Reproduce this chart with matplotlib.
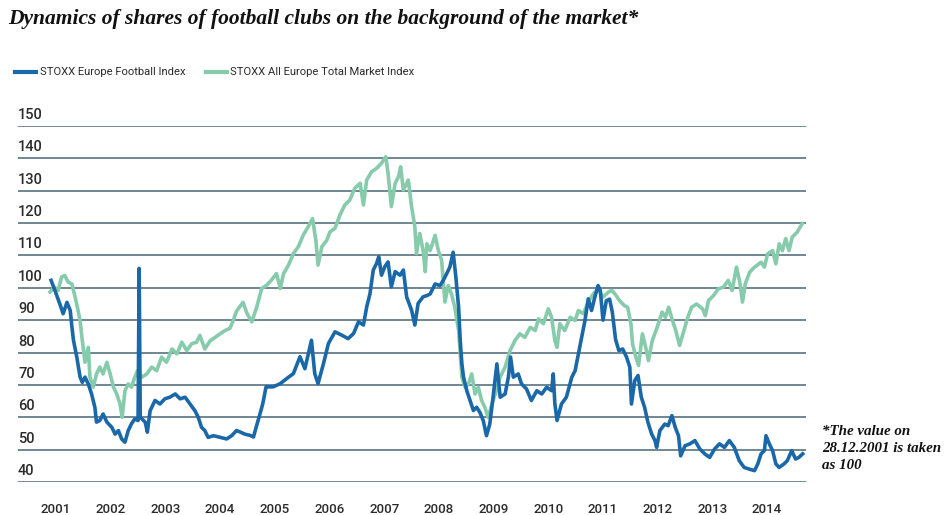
import matplotlib
matplotlib.use("Agg")
import matplotlib.pyplot as plt
import matplotlib.transforms as mtransforms

title = "Dynamics of shares of football clubs on the background of the market*"
football_label = "STOXX Europe Football Index"
market_label = "STOXX All Europe Total Market Index"
footnote = "*The value on\n28.12.2001 is taken\nas 100"

year_ticks = list(range(2001, 2015))
y_ticks = [40, 50, 60, 70, 80, 90, 100, 110, 120, 130, 140, 150]

football_x = [2000.91, 2000.98, 2001.07, 2001.13, 2001.20, 2001.26, 2001.29, 2001.32, 2001.38, 2001.44,
              2001.48, 2001.53, 2001.59, 2001.65, 2001.71, 2001.74, 2001.80, 2001.86, 2001.93, 2002.02,
              2002.08, 2002.14, 2002.20, 2002.26, 2002.32, 2002.38, 2002.44, 2002.50, 2002.52, 2002.54,
              2002.57, 2002.63, 2002.67, 2002.72, 2002.81, 2002.90, 2002.99, 2003.08, 2003.18, 2003.27,
              2003.36, 2003.45, 2003.54, 2003.60, 2003.66, 2003.72, 2003.78, 2003.88, 2004.00, 2004.12,
              2004.21, 2004.30, 2004.36, 2004.45, 2004.55, 2004.61, 2004.66, 2004.73, 2004.78, 2004.84,
              2004.97, 2005.10, 2005.22, 2005.34, 2005.46, 2005.55, 2005.67, 2005.73, 2005.79, 2005.89,
              2005.98, 2006.10, 2006.22, 2006.34, 2006.44, 2006.53, 2006.62, 2006.68, 2006.74, 2006.80,
              2006.86, 2006.90, 2006.95, 2007.01, 2007.07, 2007.13, 2007.20, 2007.29, 2007.35, 2007.41,
              2007.50, 2007.56, 2007.62, 2007.71, 2007.78, 2007.84, 2007.93, 2008.02, 2008.08, 2008.14,
              2008.20, 2008.26, 2008.31, 2008.36, 2008.39, 2008.42, 2008.45, 2008.51, 2008.57, 2008.63,
              2008.69, 2008.75, 2008.81, 2008.87, 2008.93, 2008.99, 2009.06, 2009.12, 2009.21, 2009.27,
              2009.31, 2009.36, 2009.45, 2009.51, 2009.60, 2009.69, 2009.79, 2009.88, 2009.97, 2010.06,
              2010.09, 2010.12, 2010.16, 2010.24, 2010.33, 2010.43, 2010.49, 2010.55, 2010.61, 2010.67,
              2010.73, 2010.79, 2010.85, 2010.91, 2010.95, 2011.00, 2011.06, 2011.12, 2011.17, 2011.23,
              2011.29, 2011.36, 2011.43, 2011.49, 2011.52, 2011.58, 2011.64, 2011.70, 2011.76, 2011.82,
              2011.89, 2011.95, 2011.98, 2012.04, 2012.13, 2012.19, 2012.26, 2012.32, 2012.38, 2012.42,
              2012.50, 2012.59, 2012.68, 2012.77, 2012.86, 2012.95, 2013.04, 2013.13, 2013.22, 2013.31,
              2013.40, 2013.49, 2013.58, 2013.67, 2013.77, 2013.83, 2013.89, 2013.95, 2013.98, 2014.04,
              2014.10, 2014.16, 2014.22, 2014.31, 2014.37, 2014.45, 2014.52, 2014.58, 2014.65]
football_y = [102.3, 99.2, 95.0, 92.0, 95.5, 93.0, 88.0, 83.7, 78.6, 72.4,
              70.8, 72.4, 70.3, 67.2, 63.1, 58.5, 59.0, 61.0, 58.5, 56.9,
              54.8, 55.9, 53.3, 52.3, 55.9, 58.0, 59.5, 59.0, 106.0, 60.0,
              59.5, 58.5, 55.4, 62.0, 65.2, 64.1, 65.7, 66.2, 67.2, 65.7,
              66.2, 64.1, 62.0, 60.0, 56.9, 55.9, 53.8, 54.3, 53.8, 53.3,
              54.3, 55.9, 55.5, 54.8, 54.4, 53.9, 57.0, 61.1, 64.2, 69.4,
              69.4, 70.4, 72.0, 73.5, 78.7, 75.0, 83.8, 73.5, 70.4, 76.6,
              82.8, 86.4, 85.4, 84.3, 85.9, 89.5, 88.5, 94.1, 98.2, 105.5,
              107.5, 109.6, 103.9, 106.5, 108.0, 100.3, 105.0, 103.9, 105.5, 97.2,
              93.1, 88.5, 95.2, 97.2, 97.6, 98.1, 101.2, 100.7, 102.3, 104.3,
              106.4, 111.0, 103.3, 94.0, 83.7, 76.5, 72.4, 68.2, 65.2, 62.1,
              63.1, 61.5, 59.0, 54.3, 57.9, 66.2, 76.5, 66.2, 67.2, 72.4,
              78.6, 72.4, 73.4, 70.3, 68.8, 65.2, 68.2, 67.2, 69.3, 68.2,
              73.4, 64.1, 59.0, 64.1, 66.2, 72.4, 74.4, 79.6, 84.7, 89.9,
              96.6, 93.0, 97.1, 100.7, 99.2, 90.0, 96.0, 96.5, 92.5, 84.0,
              80.6, 81.1, 78.6, 75.5, 64.1, 71.3, 72.9, 66.2, 63.1, 58.5,
              54.8, 52.8, 50.7, 55.9, 57.9, 57.4, 60.5, 56.9, 54.3, 48.1,
              51.2, 51.8, 52.8, 50.2, 48.7, 47.6, 50.2, 51.8, 50.7, 52.8,
              50.7, 46.6, 44.5, 44.0, 43.5, 45.6, 48.7, 49.7, 54.3, 51.8,
              49.7, 45.6, 44.5, 45.6, 46.6, 49.7, 47.1, 47.6, 48.7]

market_x = [2000.89, 2000.97, 2001.04, 2001.10, 2001.16, 2001.22, 2001.29, 2001.35, 2001.39, 2001.44,
            2001.48, 2001.53, 2001.59, 2001.62, 2001.68, 2001.74, 2001.80, 2001.86, 2001.93, 2001.99,
            2002.05, 2002.11, 2002.17, 2002.21, 2002.26, 2002.32, 2002.38, 2002.44, 2002.49, 2002.57,
            2002.66, 2002.75, 2002.84, 2002.93, 2003.02, 2003.12, 2003.21, 2003.30, 2003.39, 2003.48,
            2003.57, 2003.63, 2003.72, 2003.82, 2003.91, 2004.00, 2004.09, 2004.18, 2004.24, 2004.30,
            2004.42, 2004.49, 2004.58, 2004.67, 2004.76, 2004.85, 2004.94, 2005.03, 2005.10, 2005.16,
            2005.25, 2005.34, 2005.43, 2005.52, 2005.61, 2005.69, 2005.75, 2005.79, 2005.86, 2005.95,
            2006.01, 2006.10, 2006.19, 2006.28, 2006.37, 2006.46, 2006.56, 2006.62, 2006.68, 2006.77,
            2006.86, 2006.95, 2007.03, 2007.07, 2007.13, 2007.20, 2007.26, 2007.30, 2007.35, 2007.44,
            2007.50, 2007.56, 2007.59, 2007.65, 2007.71, 2007.75, 2007.78, 2007.84, 2007.93, 2007.99,
            2008.05, 2008.11, 2008.17, 2008.23, 2008.29, 2008.36, 2008.39, 2008.42, 2008.48, 2008.54,
            2008.60, 2008.66, 2008.72, 2008.78, 2008.84, 2008.90, 2008.97, 2009.03, 2009.12, 2009.21,
            2009.30, 2009.39, 2009.48, 2009.57, 2009.67, 2009.76, 2009.82, 2009.91, 2010.00, 2010.06,
            2010.12, 2010.16, 2010.21, 2010.30, 2010.40, 2010.49, 2010.55, 2010.64, 2010.73, 2010.82,
            2010.91, 2011.00, 2011.10, 2011.16, 2011.22, 2011.30, 2011.39, 2011.45, 2011.51, 2011.54,
            2011.60, 2011.65, 2011.72, 2011.78, 2011.83, 2011.90, 2011.99, 2012.08, 2012.14, 2012.20,
            2012.27, 2012.33, 2012.40, 2012.47, 2012.55, 2012.62, 2012.71, 2012.82, 2012.87, 2012.93,
            2013.02, 2013.11, 2013.20, 2013.29, 2013.36, 2013.44, 2013.50, 2013.55, 2013.60, 2013.68,
            2013.77, 2013.89, 2013.95, 2014.01, 2014.10, 2014.16, 2014.22, 2014.28, 2014.34, 2014.40,
            2014.46, 2014.55, 2014.64]
market_y = [98.7, 100.2, 99.2, 103.3, 103.8, 101.8, 101.2, 97.1, 94.0, 89.9,
            83.7, 77.0, 81.6, 72.4, 69.3, 73.4, 75.5, 73.4, 77.0, 73.4,
            69.3, 67.2, 64.1, 60.0, 68.2, 70.3, 69.3, 72.4, 74.4, 72.4,
            73.4, 75.5, 74.4, 78.6, 77.0, 81.1, 79.6, 83.2, 80.6, 82.7,
            83.2, 85.3, 81.1, 83.7, 84.7, 85.8, 86.8, 87.5, 89.9, 92.8,
            95.5, 92.1, 89.5, 94.1, 99.8, 100.8, 102.4, 104.4, 99.8, 104.4,
            107.0, 110.6, 112.7, 116.3, 118.9, 121.4, 114.7, 107.0, 112.7, 114.7,
            117.3, 118.4, 122.5, 125.6, 127.1, 130.7, 132.3, 125.6, 133.3, 135.9,
            136.9, 138.5, 140.5, 135.4, 125.1, 132.3, 134.3, 137.4, 130.2, 133.3,
            125.1, 118.9, 110.6, 116.8, 111.6, 105.0, 113.6, 111.5, 116.2, 111.5,
            108.5, 95.6, 100.7, 98.1, 94.0, 86.8, 79.6, 72.4, 69.3, 70.3,
            73.4, 67.2, 69.3, 65.2, 63.1, 60.0, 64.1, 67.2, 72.4, 75.5,
            80.6, 83.7, 85.8, 84.7, 87.8, 86.8, 90.4, 88.9, 93.5, 90.9,
            83.7, 81.6, 88.9, 86.8, 90.9, 89.9, 93.0, 92.0, 95.6, 98.1,
            99.7, 97.1, 98.7, 99.2, 98.1, 96.1, 94.5, 94.0, 88.9, 82.7,
            78.6, 76.0, 85.8, 81.6, 77.5, 83.7, 87.8, 92.5, 90.9, 94.0,
            89.9, 86.8, 82.2, 86.3, 90.9, 94.0, 95.0, 93.5, 91.4, 96.1,
            97.6, 99.7, 100.2, 102.3, 99.2, 106.4, 101.8, 95.6, 101.2, 104.8,
            106.4, 107.9, 106.4, 110.5, 111.5, 107.4, 113.6, 111.5, 115.2, 111.5,
            115.7, 117.2, 119.8]

BLUE = "#1a68a8"
GREEN = "#86cbab"
GRID = "#4a6676"
TEXT = "#2b2b2b"

fig = plt.figure(figsize=(9.46, 5.15), dpi=100)
ax = fig.add_axes([18 / 946, 1 - 482 / 515, (806 - 18) / 946, (482 - 126) / 515])

ax.plot(market_x, market_y, color=GREEN, lw=2.6, solid_joinstyle="round", zorder=3)
ax.plot(football_x, football_y, color=BLUE, lw=2.6, solid_joinstyle="round", zorder=4)

ax.set_xlim(2000.305, 2014.711)
ax.set_ylim(40, 150)
for v in y_ticks:
    ax.axhline(v, color=GRID, lw=1.1, zorder=1)
for s in ax.spines.values():
    s.set_visible(False)

ax.set_yticks([])
ax.set_xticks(year_ticks)
ax.set_xticklabels([str(y) for y in year_ticks], fontfamily="Roboto", fontsize=9.5,
                   color=TEXT, fontweight="medium")
ax.tick_params(axis="x", length=0, pad=15)

trans = mtransforms.blended_transform_factory(ax.transAxes, ax.transData)
off = mtransforms.offset_copy(trans, fig=fig, x=0, y=4, units="dots")
for v in y_ticks:
    ax.text(0.0, v, str(v), transform=off, ha="left", va="bottom",
            fontfamily="Roboto", fontsize=10.5, color=TEXT, fontweight="medium")

fig.text(8 / 946, 1 - 19 / 515, title, ha="left", va="center",
         fontfamily="Liberation Serif", fontstyle="italic", fontweight="bold",
         fontsize=15.5, color="#111111")

# legend
ly = 1 - 72 / 515
fig.add_artist(plt.Line2D([15 / 946, 36 / 946], [ly, ly], color=BLUE, lw=3))
fig.text(40 / 946, ly, football_label, ha="left", va="center",
         fontfamily="Roboto", fontsize=8.1, color=TEXT)
fig.add_artist(plt.Line2D([206 / 946, 227 / 946], [ly, ly], color=GREEN, lw=3))
fig.text(230 / 946, ly, market_label, ha="left", va="center",
         fontfamily="Roboto", fontsize=8.1, color=TEXT)

fig.text(822 / 946, 1 - 425 / 515, footnote, ha="left", va="top",
         fontfamily="Liberation Serif", fontstyle="italic", fontweight="bold",
         fontsize=10.8, color="#111111", linespacing=1.4)

fig.savefig("out.png", dpi=100)
